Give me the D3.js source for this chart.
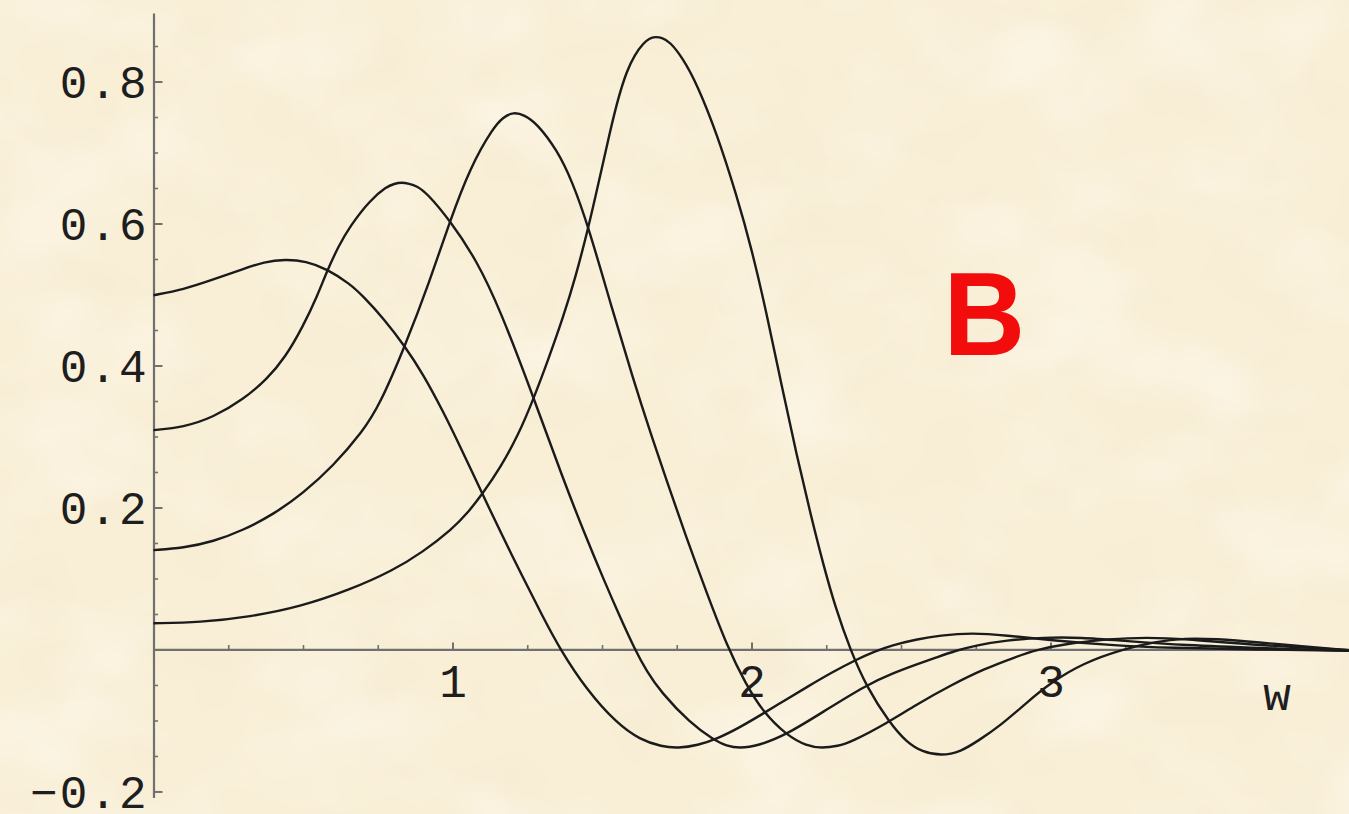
<!DOCTYPE html>
<html>
<head>
<meta charset="utf-8">
<script src="https://cdn.jsdelivr.net/npm/d3@7"></script>
<style>
  html, body { margin: 0; padding: 0; background: #f9efd6; }
  svg { display: block; }
</style>
</head>
<body>
<svg id="chart" width="1349" height="814"></svg>
<script>
// Four response curves, [w, value] pairs
const curve1 = [
  [0.00, 0.499], [0.10, 0.507], [0.20, 0.521], [0.30, 0.536], [0.37, 0.546], [0.44, 0.5495],
  [0.51, 0.547], [0.58, 0.536], [0.657, 0.515], [0.70, 0.498], [0.77, 0.466], [0.841, 0.427],
  [0.90, 0.389], [0.968, 0.336], [1.03, 0.282], [1.099, 0.220], [1.16, 0.166], [1.237, 0.100],
  [1.30, 0.048], [1.36, 0.000], [1.449, -0.057], [1.549, -0.104], [1.627, -0.127], [1.70, -0.137],
  [1.755, -0.139], [1.82, -0.135], [1.884, -0.126], [1.96, -0.110], [2.04, -0.090], [2.11, -0.072],
  [2.185, -0.053], [2.27, -0.032], [2.352, -0.014], [2.41, -0.003], [2.47, 0.006], [2.55, 0.014],
  [2.63, 0.020], [2.74, 0.0235], [2.85, 0.020], [3.00, 0.013], [3.20, 0.006], [3.40, 0.002],
  [3.70, 0.000], [4.00, -0.002]
];
const curve2 = [
  [0.00, 0.309], [0.10, 0.313], [0.20, 0.327], [0.30, 0.352], [0.38, 0.381], [0.44, 0.411],
  [0.50, 0.455], [0.55, 0.500], [0.58, 0.533], [0.62, 0.569], [0.657, 0.596], [0.724, 0.633],
  [0.78, 0.652], [0.805, 0.656], [0.83, 0.658], [0.855, 0.656], [0.88, 0.653], [0.914, 0.643],
  [0.99, 0.605], [1.08, 0.549], [1.16, 0.478], [1.27, 0.356], [1.37, 0.240], [1.44, 0.165],
  [1.505, 0.099], [1.56, 0.046], [1.61, 0.000], [1.65, -0.031], [1.695, -0.059], [1.795, -0.104],
  [1.873, -0.127], [1.917, -0.136], [1.96, -0.139], [2.02, -0.136], [2.118, -0.120], [2.25, -0.085],
  [2.385, -0.050], [2.47, -0.034], [2.553, -0.021], [2.62, -0.011], [2.68, -0.002], [2.753, 0.006],
  [2.85, 0.013], [2.98, 0.017], [3.10, 0.017], [3.25, 0.012], [3.45, 0.006], [3.70, 0.002],
  [4.00, -0.002]
];
const curve3 = [
  [0.00, 0.140], [0.10, 0.143], [0.20, 0.152], [0.30, 0.168], [0.40, 0.190], [0.50, 0.220],
  [0.60, 0.258], [0.70, 0.307], [0.757, 0.345], [0.841, 0.427], [0.925, 0.520], [0.99, 0.602],
  [1.06, 0.680], [1.136, 0.735], [1.17, 0.750], [1.204, 0.757], [1.24, 0.753], [1.282, 0.741],
  [1.349, 0.704], [1.40, 0.660], [1.455, 0.595], [1.53, 0.485], [1.605, 0.380], [1.66, 0.308],
  [1.716, 0.238], [1.78, 0.160], [1.85, 0.080], [1.92, 0.003], [1.98, -0.048], [2.04, -0.089],
  [2.118, -0.121], [2.185, -0.136], [2.235, -0.139], [2.29, -0.136], [2.33, -0.131], [2.452, -0.104],
  [2.55, -0.078], [2.664, -0.051], [2.78, -0.027], [2.887, -0.010], [2.95, -0.001], [3.05, 0.008],
  [3.20, 0.015], [3.32, 0.017], [3.45, 0.015], [3.65, 0.007], [4.00, -0.001]
];
const curve4 = [
  [0.00, 0.037], [0.155, 0.038], [0.323, 0.046], [0.49, 0.060], [0.657, 0.084], [0.80, 0.111],
  [0.90, 0.137], [1.00, 0.170], [1.05, 0.192], [1.10, 0.219], [1.16, 0.256], [1.22, 0.302],
  [1.27, 0.352], [1.32, 0.408], [1.37, 0.468], [1.41, 0.522], [1.455, 0.595], [1.49, 0.660],
  [1.527, 0.730], [1.555, 0.778], [1.583, 0.815], [1.61, 0.838], [1.638, 0.854], [1.66, 0.861],
  [1.677, 0.863], [1.70, 0.862], [1.727, 0.856], [1.77, 0.833], [1.817, 0.797], [1.884, 0.727],
  [1.95, 0.640], [2.00, 0.565], [2.05, 0.475], [2.10, 0.373], [2.151, 0.274], [2.20, 0.186],
  [2.24, 0.120], [2.28, 0.060], [2.33, 0.000], [2.385, -0.053], [2.463, -0.104], [2.52, -0.131],
  [2.57, -0.144], [2.635, -0.150], [2.70, -0.144], [2.76, -0.128], [2.83, -0.108], [2.92, -0.075],
  [3.00, -0.047], [3.11, -0.019], [3.24, 0.000], [3.35, 0.011], [3.45, 0.016], [3.55, 0.015],
  [3.70, 0.010], [3.85, 0.004], [4.00, -0.001]
];
const seriesList = [curve1, curve2, curve3, curve4];

// Axis ticks and labels
const yMajorTicks = [-0.2, 0.2, 0.4, 0.6, 0.8];
const yMinorTicks = [-0.15, -0.1, -0.05, 0.05, 0.1, 0.15, 0.25, 0.3, 0.35, 0.45, 0.5, 0.55,
                     0.65, 0.7, 0.75, 0.85];
const xMajorTicks = [1, 2, 3];
const xMinorTicks = [0.25, 0.5, 0.75, 1.25, 1.5, 1.75, 2.25, 2.5, 2.75, 3.25, 3.5, 3.75];
const xAxisLabel = "w";
const panelLetter = "B";

const W = 1349, H = 814;
const svg = d3.select("#chart");

// Paper-like background: cream base with soft light and dark mottling
const defs = svg.append("defs");
const light = defs.append("filter").attr("id", "paperLight")
  .attr("x", 0).attr("y", 0).attr("width", "100%").attr("height", "100%");
light.append("feTurbulence").attr("type", "fractalNoise")
  .attr("baseFrequency", "0.007 0.010").attr("numOctaves", 3).attr("seed", 7).attr("result", "n");
light.append("feColorMatrix").attr("in", "n").attr("type", "matrix")
  .attr("values", "0 0 0 0 1  0 0 0 0 0.99  0 0 0 0 0.95  0.9 0 0 0 -0.40");
const dark = defs.append("filter").attr("id", "paperDark")
  .attr("x", 0).attr("y", 0).attr("width", "100%").attr("height", "100%");
dark.append("feTurbulence").attr("type", "fractalNoise")
  .attr("baseFrequency", "0.012 0.016").attr("numOctaves", 2).attr("seed", 19).attr("result", "n");
dark.append("feColorMatrix").attr("in", "n").attr("type", "matrix")
  .attr("values", "0 0 0 0 0.85  0 0 0 0 0.75  0 0 0 0 0.55  0.45 0 0 0 -0.22");

svg.append("rect").attr("width", W).attr("height", H).attr("fill", "#f9efd7");
svg.append("rect").attr("width", W).attr("height", H).attr("filter", "url(#paperDark)");
svg.append("rect").attr("width", W).attr("height", H).attr("filter", "url(#paperLight)");

// Scales
const x = d3.scaleLinear().domain([0, 4]).range([153.5, 1349.5]);
const y = d3.scaleLinear().domain([-0.2085, 0.8965]).range([797.5, 13]);

const axisColor = "#707070";
const textColor = "#1e1e1e";
const monoFont = "'Liberation Mono', 'DejaVu Sans Mono', monospace";

// Y axis: ticks point right, labels sit left of the line
const yAxisG = svg.append("g").attr("transform", `translate(${x(0)},0)`);
yAxisG.call(d3.axisLeft(y).tickValues(yMajorTicks).tickSizeInner(-9).tickSizeOuter(0)
  .tickPadding(5).tickFormat(d3.format(".1f")));
yAxisG.select(".domain").attr("stroke", axisColor).attr("stroke-width", 2.2);
yAxisG.selectAll(".tick line").attr("stroke", axisColor).attr("stroke-width", 2);
yAxisG.selectAll(".tick text")
  .attr("fill", textColor).attr("font-family", monoFont).attr("font-size", 46)
  .attr("letter-spacing", 2).attr("dy", "0.34em");

const yMinorG = svg.append("g").attr("transform", `translate(${x(0)},0)`);
yMinorG.call(d3.axisLeft(y).tickValues(yMinorTicks).tickSizeInner(-4.5).tickSizeOuter(0).tickFormat(""));
yMinorG.select(".domain").remove();
yMinorG.selectAll(".tick line").attr("stroke", axisColor).attr("stroke-width", 1.6);

// X axis along value 0: ticks point up, labels below
const xAxisG = svg.append("g").attr("transform", `translate(0,${y(0)})`);
xAxisG.call(d3.axisBottom(x).tickValues(xMajorTicks).tickSizeInner(-7).tickSizeOuter(0)
  .tickFormat(d3.format("d")));
xAxisG.select(".domain").attr("stroke", axisColor).attr("stroke-width", 2.2);
xAxisG.selectAll(".tick line").attr("stroke", axisColor).attr("stroke-width", 2);
xAxisG.selectAll(".tick text")
  .attr("fill", textColor).attr("font-family", monoFont).attr("font-size", 46)
  .attr("y", 47.5).attr("dy", 0);

const xMinorG = svg.append("g").attr("transform", `translate(0,${y(0)})`);
xMinorG.call(d3.axisBottom(x).tickValues(xMinorTicks).tickSizeInner(-4.5).tickSizeOuter(0).tickFormat(""));
xMinorG.select(".domain").remove();
xMinorG.selectAll(".tick line").attr("stroke", axisColor).attr("stroke-width", 1.6);

// Axis name near the right end of the w axis
svg.append("text")
  .attr("x", x(3.758)).attr("y", y(0) + 60.5)
  .attr("text-anchor", "middle")
  .attr("fill", textColor).attr("font-family", monoFont).attr("font-size", 46)
  .text(xAxisLabel);

// Curves (smooth B-spline through the sampled values)
const line = d3.line().x(d => x(d[0])).y(d => y(d[1])).curve(d3.curveBasis);
svg.append("g").selectAll("path").data(seriesList).join("path")
  .attr("d", line)
  .attr("fill", "none")
  .attr("stroke", "#1b1b1b")
  .attr("stroke-width", 2.4)
  .attr("stroke-linejoin", "round");

// Panel letter
svg.append("text")
  .attr("transform", "translate(952,355) scale(0.95,1)")
  .attr("x", -9).attr("y", 0)
  .attr("fill", "#f20c0c")
  .attr("font-family", "'Liberation Sans', Arial, sans-serif")
  .attr("font-weight", "bold")
  .attr("font-size", 119)
  .text(panelLetter);
</script>
</body>
</html>
